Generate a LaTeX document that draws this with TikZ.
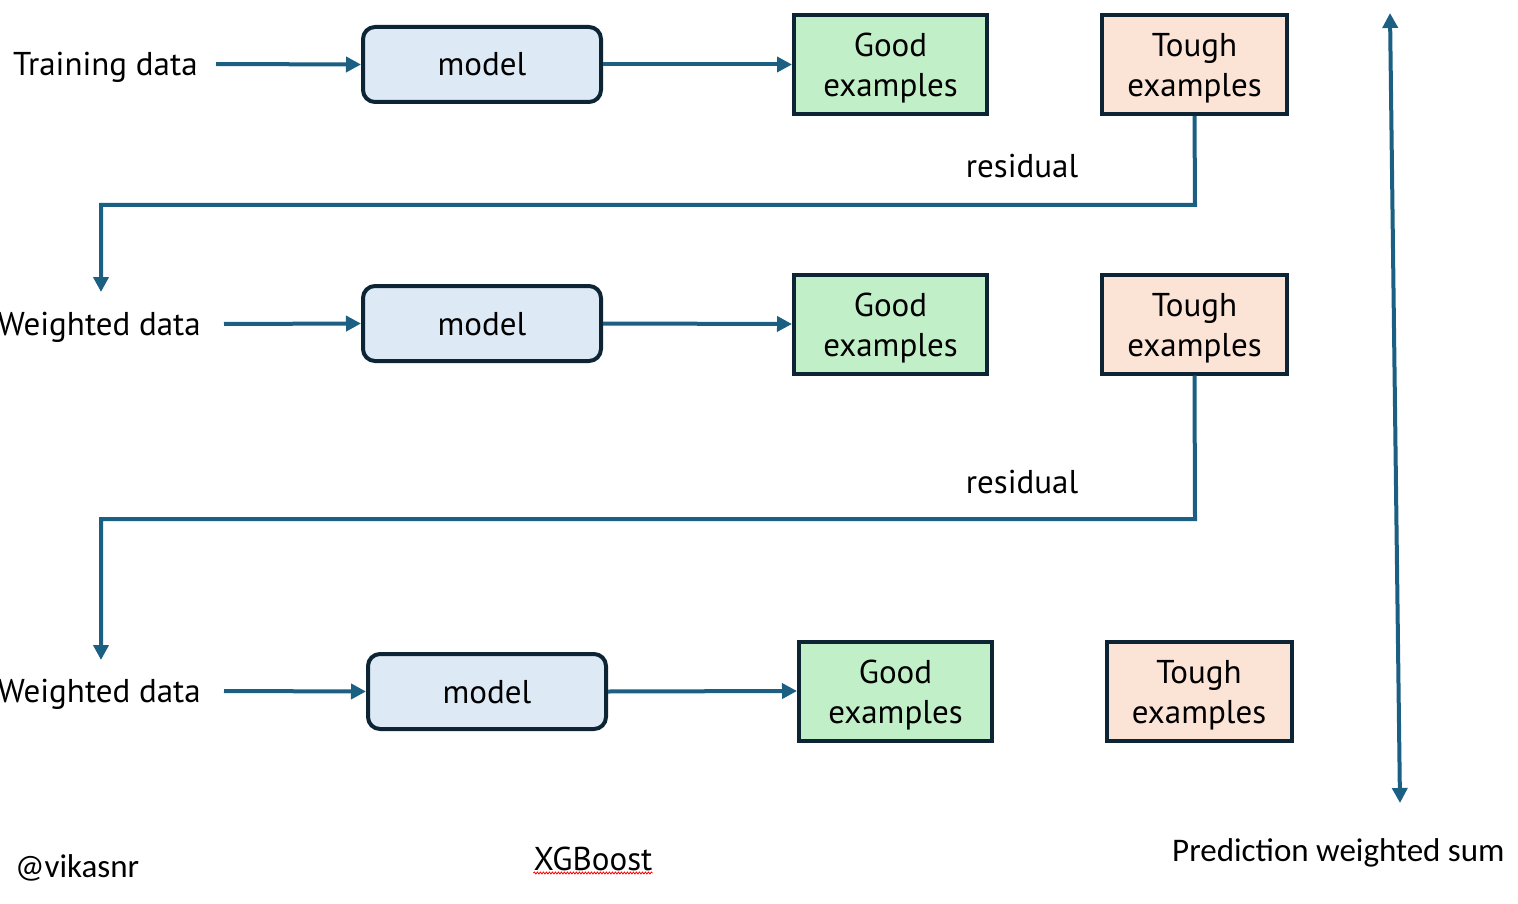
\documentclass[tikz,border=0pt]{standalone}
\usepackage{fontspec}
\setmainfont{PT Sans}
\newfontfamily\calfont{Carlito}
\usetikzlibrary{arrows.meta,decorations.pathmorphing}
\definecolor{arrc}{RGB}{27,96,131}
\definecolor{bordc}{RGB}{12,36,52}
\definecolor{modelc}{RGB}{221,234,246}
\definecolor{goodc}{RGB}{193,240,200}
\definecolor{toughc}{RGB}{251,227,214}
\begin{document}
\begin{tikzpicture}[x=1pt,y=-1pt,
  txt/.style={font=\fontsize{33}{40}\selectfont, inner sep=0pt, align=center},
  modelbox/.style={txt, draw=bordc, line width=4pt, fill=modelc, rounded corners=12pt, minimum width=238pt, minimum height=75pt, text height=27pt, text depth=4pt},
  goodbox/.style={txt, draw=bordc, line width=4pt, fill=goodc, minimum width=193pt, minimum height=99pt, text height=69pt, text depth=4pt},
  toughbox/.style={txt, draw=bordc, line width=4pt, fill=toughc, minimum width=185pt, minimum height=99pt, text height=69pt, text depth=4pt},
  arr/.style={draw=arrc, line width=4pt, -{Triangle[length=15pt,width=15pt]}},
  darr/.style={draw=arrc, line width=4pt, {Triangle[length=15pt,width=15pt]}-{Triangle[length=15pt,width=15pt]}},
  lbl/.style={txt},
  callbl/.style={font=\calfont\fontsize{33}{40}\selectfont, inner sep=0pt}
]
\useasboundingbox (0,0) rectangle (1518,904);
% row 1
\node[lbl, anchor=base west] (d1) at (13,75.5) {Training data};
\node[modelbox] (m1) at (482,64.5) {model};
\node[goodbox] (g1) at (890.5,64.5) {Good\\examples};
\node[toughbox] (t1) at (1194.5,64.5) {Tough\\examples};
\coordinate (d1e) at (216,64);
\draw[arr] (d1e) -- (m1.west);
\draw[arr] (m1.east) -- (g1.west);
% row 2
\node[lbl, anchor=base east] (d2) at (201,335.5) {Weighted data};
\node[modelbox] (m2) at (482,323.5) {model};
\node[goodbox] (g2) at (890.5,324) {Good\\examples};
\node[toughbox] (t2) at (1194.5,324) {Tough\\examples};
\coordinate (d2e) at (224,324);
\draw[arr] (d2e) -- (m2.west);
\draw[arr] (m2.east) -- (g2.west);
% row 3
\node[lbl, anchor=base east] (d3) at (201,702.5) {Weighted data};
\node[modelbox] (m3) at (487,691.5) {model};
\node[goodbox] (g3) at (895.5,691) {Good\\examples};
\node[toughbox] (t3) at (1199,691) {Tough\\examples};
\coordinate (d3e) at (224,691);
\draw[arr] (d3e) -- (m3.west);
\draw[arr] (m3.east) -- (g3.west);
% residual connectors
\coordinate (r1) at (101,292);
\coordinate (r2) at (101,660);
\draw[arr] (t1.south) -- (1195,205) -| (r1);
\draw[arr] (t2.south) -- (1195,519) -| (r2);
\node[lbl, anchor=base] (res1) at (1022,178) {residual};
\node[lbl, anchor=base] (res2) at (1022,493) {residual};
% prediction arrow
\coordinate (pt) at (1390,13);
\coordinate (pb) at (1400,803);
\draw[darr] (pb) -- (pt);
\node[callbl, anchor=base west] (pred) at (1172,861) {Prediction weighted sum};
\node[callbl, anchor=base west] (vik) at (15,877) {@vikasnr};
\node[lbl, anchor=base] (xgb) at (593,870) {XGBoost};
\draw[red, line width=0.8pt, decorate, decoration={snake, amplitude=1pt, segment length=3pt}] ([yshift=-3pt]xgb.base west) -- ([yshift=-3pt]xgb.base east);
\end{tikzpicture}
\end{document}
